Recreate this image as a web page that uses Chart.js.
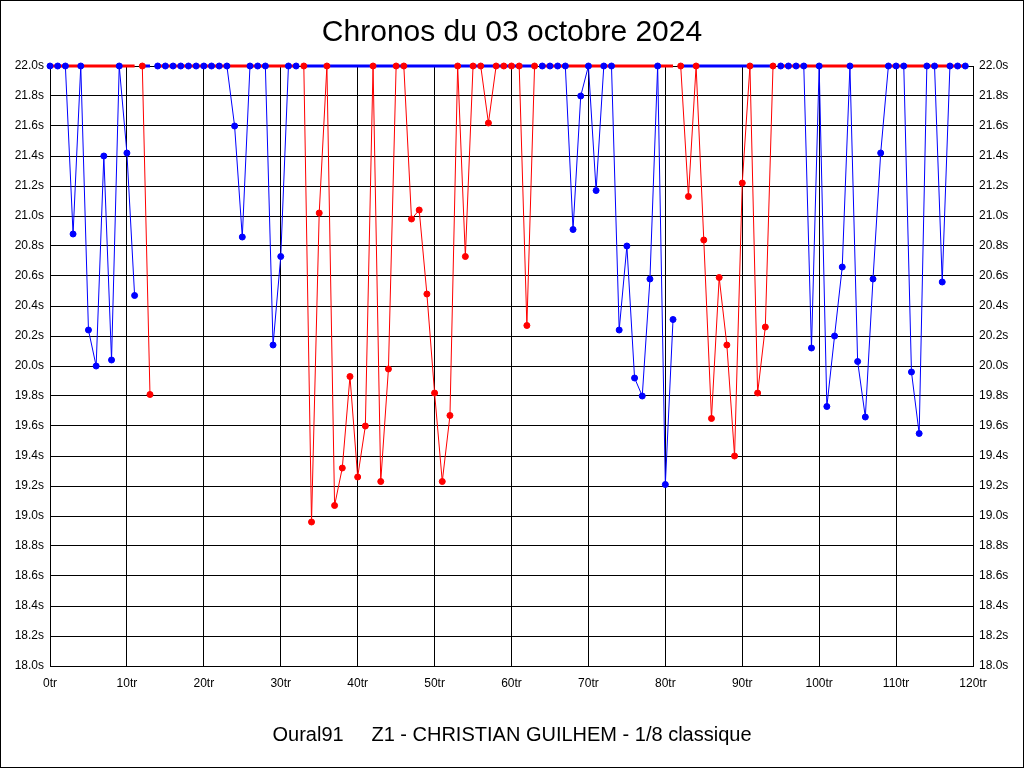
<!DOCTYPE html>
<html lang="fr">
<head>
<meta charset="utf-8">
<title>Chronos du 03 octobre 2024</title>
<script src="https://cdn.jsdelivr.net/npm/chart.js@4/dist/chart.umd.min.js"></script>
<style>
  html, body { margin: 0; padding: 0; background: #fff; }
  canvas { display: block; }
</style>
</head>
<body>
<canvas id="chronoChart" width="1024" height="768"></canvas>
<script>
// temps au tour (s), un par tour de 0 a 119 ; 22.0 = hors echelle (plafonne)
const lapTimes = [
  22.0, 22.0, 22.0, 20.88, 22.0, 20.24, 20.00, 21.40, 20.04, 22.0,
  21.42, 20.47, 22.0, 19.81, 22.0, 22.0, 22.0, 22.0, 22.0, 22.0,
  22.0, 22.0, 22.0, 22.0, 21.60, 20.86, 22.0, 22.0, 22.0, 20.14,
  20.73, 22.0, 22.0, 22.0, 18.96, 21.02, 22.0, 19.07, 19.32, 19.93,
  19.26, 19.60, 22.0, 19.23, 19.98, 22.0, 22.0, 20.98, 21.04, 20.48,
  19.82, 19.23, 19.67, 22.0, 20.73, 22.0, 22.0, 21.62, 22.0, 22.0,
  22.0, 22.0, 20.27, 22.0, 22.0, 22.0, 22.0, 22.0, 20.91, 21.80,
  22.0, 21.17, 22.0, 22.0, 20.24, 20.80, 19.92, 19.80, 20.58, 22.0,
  19.21, 20.31, 22.0, 21.13, 22.0, 20.84, 19.65, 20.59, 20.14, 19.40,
  21.22, 22.0, 19.82, 20.26, 22.0, 22.0, 22.0, 22.0, 22.0, 20.12,
  22.0, 19.73, 20.20, 20.66, 22.0, 20.03, 19.66, 20.58, 21.42, 22.0,
  22.0, 22.0, 19.96, 19.55, 22.0, 22.0, 20.56, 22.0, 22.0, 22.0
];

// relais : premier tour de chaque relais et pilote (0 = bleu, 1 = rouge)
const stintStart = [0, 12, 14, 33, 64, 82, 95];
const stintDriver = [0, 1, 0, 1, 0, 1, 0];
const driverColors = ["#0000ff", "#ff0000"];

const yTicksMin = 18.0;
const yTicksMax = 22.0;
const xTicksMax = 120;

const titleText = "Chronos du 03 octobre 2024";
const footerText = "Oural91     Z1 - CHRISTIAN GUILHEM - 1/8 classique";

function driverAt(lap) {
  let d = stintDriver[0];
  stintStart.forEach((start, i) => {
    if (lap >= start) d = stintDriver[i];
  });
  return d;
}

function ownLaps(driver) {
  return lapTimes.map((t, lap) => ({
    x: lap,
    y: driverAt(lap) === driver ? t : null,
  }));
}

// l'autre pilote, hors piste, reste plafonne en haut
function offLaps(driver) {
  return lapTimes.map((t, lap) => ({
    x: lap,
    y: driverAt(lap) === driver ? null : yTicksMax,
  }));
}

function pointsSet(driver) {
  return {
    data: ownLaps(driver),
    showLine: false,
    pointRadius: 3,
    pointBorderWidth: 1,
    pointBackgroundColor: driverColors[driver],
    pointBorderColor: driverColors[driver],
    clip: false,
  };
}

function bandSet(driver) {
  return {
    data: offLaps(driver),
    borderColor: driverColors[driver],
    borderWidth: 3,
    pointRadius: 0,
    spanGaps: false,
    clip: false,
  };
}

function lineSet(driver) {
  return {
    data: ownLaps(driver),
    borderColor: driverColors[driver],
    borderWidth: 1,
    pointRadius: 0,
    spanGaps: false,
    clip: false,
  };
}

const frame = {
  id: "frame",
  beforeDraw(chart) {
    const ctx = chart.ctx;
    ctx.save();
    ctx.fillStyle = "#ffffff";
    ctx.fillRect(0, 0, chart.width, chart.height);
    ctx.restore();
  },
  afterDraw(chart) {
    const ctx = chart.ctx;
    ctx.save();
    ctx.strokeStyle = "#000000";
    ctx.lineWidth = 1;
    ctx.strokeRect(0.5, 0.5, chart.width - 1, chart.height - 1);
    ctx.restore();
  },
};

Chart.defaults.font.family = "'Liberation Sans', Arial, sans-serif";
Chart.defaults.color = "#000000";

const yLabel = (v) => `${Number(v).toFixed(1)}s`;

const ctx = document.getElementById("chronoChart").getContext("2d");

new Chart(ctx, {
  type: "line",
  data: {
    datasets: [
      pointsSet(0),
      pointsSet(1),
      bandSet(0),
      bandSet(1),
      lineSet(0),
      lineSet(1),
    ],
  },
  options: {
    responsive: false,
    animation: false,
    devicePixelRatio: 1,
    layout: { padding: 0 },
    plugins: {
      legend: { display: false },
      tooltip: { enabled: false },
      title: {
        display: true,
        text: titleText,
        color: "#000000",
        font: { size: 30, weight: "normal", lineHeight: "30px" },
        padding: { top: 18, bottom: 18 },
      },
      subtitle: {
        display: true,
        position: "bottom",
        text: footerText,
        color: "#000000",
        font: { size: 20, weight: "normal", lineHeight: "30px" },
        padding: { top: 14, bottom: 18 },
      },
    },
    scales: {
      x: {
        type: "linear",
        min: 0,
        max: xTicksMax,
        afterFit: (scale) => { scale.height = 40; },
        grid: { color: "#000000", lineWidth: 1, drawTicks: false },
        border: { color: "#000000", width: 1 },
        ticks: {
          stepSize: 10,
          padding: 10,
          maxRotation: 0,
          font: { size: 12 },
          callback: (v) => `${v}tr`,
        },
      },
      y: {
        position: "left",
        min: yTicksMin,
        max: yTicksMax,
        afterFit: (scale) => { scale.width = 50; },
        grid: { color: "#000000", lineWidth: 1, drawTicks: false },
        border: { color: "#000000", width: 1 },
        ticks: { stepSize: 0.2, padding: 6, font: { size: 12 }, callback: yLabel },
      },
      y2: {
        position: "right",
        min: yTicksMin,
        max: yTicksMax,
        afterFit: (scale) => { scale.width = 51; },
        grid: { display: false, drawTicks: false },
        border: { color: "#000000", width: 1 },
        ticks: { stepSize: 0.2, padding: 6, font: { size: 12 }, callback: yLabel },
      },
    },
  },
  plugins: [frame],
});
</script>
</body>
</html>
